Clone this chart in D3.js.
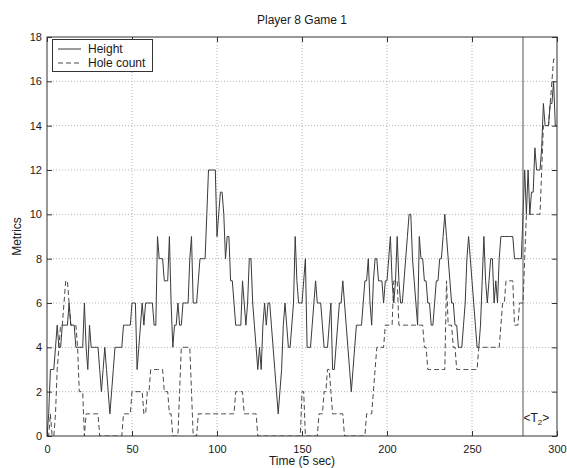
<!DOCTYPE html>
<html>
<head>
<meta charset="utf-8">
<script src="https://cdn.jsdelivr.net/npm/d3@7"></script>
<style>
  body { margin: 0; background: #fff; }
  text { font-family: "Liberation Sans", Arial, Helvetica, sans-serif; fill: #1a1a1a; }
</style>
</head>
<body>
<svg id="chart" width="567" height="468"></svg>
<script>
// Sample index (one step = 5 seconds)
const timeSteps = d3.range(0, 301);

// Board height per step
const heightValues = [
  0,1,3,3,3,4,5,4,4,5,
  5,5,5,6,5,5,5,4,4,4,
  4,4,6,4,3,5,4,4,4,4,
  4,3,2,3,4,3,2,1,2,3,
  4,4,4,4,4,5,5,5,5,5,
  6,6,6,3,4,5,6,5,6,6,
  6,6,6,5,5,9,8,8,8,7,
  7,7,9,6,4,5,5,6,5,5,
  6,6,6,6,8,9,6,6,6,7,
  8,8,8,8,10,12,12,12,12,12,
  9,10,11,11,10,8,9,9,7,7,
  6,5,5,5,5,7,6,5,6,8,
  8,6,5,4,3,4,3,5,6,5,
  6,6,5,4,3,2,1,2,3,5,
  6,5,4,4,5,6,9,7,6,6,
  6,7,8,4,4,4,5,6,7,6,
  6,6,5,4,4,4,5,6,3,3,
  4,5,6,6,7,6,5,4,3,2,
  3,4,5,5,5,5,6,7,7,8,
  6,5,7,8,8,7,7,7,6,7,
  7,8,9,7,6,7,9,7,6,6,
  7,8,9,10,10,8,7,6,5,9,
  8,8,7,7,6,6,5,5,6,7,
  7,8,8,9,10,9,8,7,6,6,
  5,5,4,4,4,5,6,8,9,8,
  7,6,5,4,4,5,7,9,7,6,
  7,8,8,6,7,6,8,9,9,9,
  9,9,9,9,9,8,8,8,8,8,
  10,12,10,12,10,11,11,13,12,12,
  12,13,15,14,14,14,15,15,16,14,
  14
];

// Number of holes per step
const holeCountValues = [
  0,0,1,0,0,1,3,4,5,5,
  6,7,7,6,5,5,5,5,4,2,
  2,2,0,1,1,1,1,1,1,1,
  1,0,0,0,0,0,0,0,0,0,
  0,0,0,0,0,1,1,1,1,1,
  2,2,2,2,2,2,2,1,1,2,
  2,3,3,3,3,3,3,3,3,2,
  2,2,1,1,0,0,0,0,2,4,
  4,4,4,4,4,2,0,0,0,1,
  1,1,1,1,1,1,1,1,1,1,
  1,1,1,1,1,1,1,1,1,1,
  1,2,2,2,2,2,1,1,1,1,
  1,1,1,1,0,0,0,0,0,0,
  0,0,0,0,0,0,0,0,0,0,
  0,0,0,0,0,0,0,0,0,0,
  2,2,0,0,0,0,0,0,0,0,
  1,1,1,2,2,3,3,2,1,1,
  1,1,1,1,1,0,0,0,0,0,
  0,0,0,0,0,0,0,0,1,1,
  1,1,2,3,4,4,4,4,4,5,
  5,5,5,5,7,7,7,5,5,5,
  5,5,5,5,5,5,5,5,5,5,
  5,5,4,4,3,3,3,3,3,3,
  3,3,3,3,3,7,5,5,5,4,
  4,3,3,3,3,3,3,3,3,3,
  3,3,3,3,4,4,4,4,4,4,
  4,4,4,4,4,4,4,5,6,6,
  7,7,7,7,7,5,5,5,6,6,
  6,8,10,10,10,10,10,10,10,10,
  10,12,14,14,14,14,15,16,17,17,
  17
];

const xTicks = [0, 50, 100, 150, 200, 250, 300];
const yTicks = [0, 2, 4, 6, 8, 10, 12, 14, 16, 18];
const markerTime = 280;

const svg = d3.select("#chart");
const W = 567, H = 468;
const margin = { left: 47, right: 10, top: 37, bottom: 32 };
const x0 = margin.left, x1 = W - margin.right;
const y0 = H - margin.bottom, y1 = margin.top;

const x = d3.scaleLinear().domain([0, 300]).range([x0, x1]);
const y = d3.scaleLinear().domain([0, 18]).range([y0, y1]);

const lineColor = "#3a3a3a";
const frameColor = "#333";

// dotted grid
const grid = svg.append("g");
grid.selectAll("line.gx").data(xTicks.filter(d => d > 0 && d < 300)).join("line")
  .attr("x1", d => x(d)).attr("x2", d => x(d)).attr("y1", y0).attr("y2", y1)
  .attr("stroke", "#b5b5b5").attr("stroke-width", 1).attr("stroke-dasharray", "1,2");
grid.selectAll("line.gy").data(yTicks.filter(d => d > 0 && d < 18)).join("line")
  .attr("x1", x0).attr("x2", x1).attr("y1", d => y(d)).attr("y2", d => y(d))
  .attr("stroke", "#b5b5b5").attr("stroke-width", 1).attr("stroke-dasharray", "1,2");

// axes with inward ticks on all four sides
function styleAxis(g) {
  g.select(".domain").remove();
  g.selectAll(".tick line").attr("stroke", frameColor);
  g.selectAll(".tick text").attr("font-size", 11).style("fill", "#1a1a1a");
}
svg.append("g").attr("transform", `translate(0,${y0})`)
  .call(d3.axisBottom(x).tickValues(xTicks).tickSizeInner(-5).tickSizeOuter(0).tickPadding(9))
  .call(styleAxis);
svg.append("g").attr("transform", `translate(0,${y1})`)
  .call(d3.axisTop(x).tickValues(xTicks).tickSizeInner(-5).tickSizeOuter(0).tickFormat(""))
  .call(styleAxis);
svg.append("g").attr("transform", `translate(${x0},0)`)
  .call(d3.axisLeft(y).tickValues(yTicks).tickSizeInner(-5).tickSizeOuter(0).tickPadding(5))
  .call(styleAxis);
svg.append("g").attr("transform", `translate(${x1},0)`)
  .call(d3.axisRight(y).tickValues(yTicks).tickSizeInner(-5).tickSizeOuter(0).tickFormat(""))
  .call(styleAxis);

// series
const clip = svg.append("clipPath").attr("id", "plotClip")
  .append("rect").attr("x", x0).attr("y", y1 - 2).attr("width", x1 - x0).attr("height", y0 - y1 + 2);

const line = d3.line().x(d => x(d[0])).y(d => y(d[1]));
const heightPts = timeSteps.map((t, i) => [t, heightValues[i]]);
const holePts = timeSteps.map((t, i) => [t, holeCountValues[i]]);

svg.append("path").datum(holePts)
  .attr("d", line).attr("fill", "none")
  .attr("stroke", "#4a4a4a").attr("stroke-width", 1).attr("stroke-dasharray", "5,3")
  .attr("clip-path", "url(#plotClip)");
svg.append("path").datum(heightPts)
  .attr("d", line).attr("fill", "none")
  .attr("stroke", lineColor).attr("stroke-width", 1)
  .attr("clip-path", "url(#plotClip)");

// marker line
svg.append("line")
  .attr("x1", x(markerTime)).attr("x2", x(markerTime)).attr("y1", y0).attr("y2", y1)
  .attr("stroke", "#555").attr("stroke-width", 1);
const mk = svg.append("text").attr("x", x(markerTime) + 0.5).attr("y", 422).attr("font-size", 12);
mk.append("tspan").text("<T");
mk.append("tspan").attr("font-size", 8).attr("dy", 3).text("2");
mk.append("tspan").attr("dy", -3).text(">");

// frame
svg.append("rect").attr("x", x0).attr("y", y1).attr("width", x1 - x0).attr("height", y0 - y1)
  .attr("fill", "none").attr("stroke", frameColor).attr("stroke-width", 1);

// legend
const lg = svg.append("g");
lg.append("rect").attr("x", 52.5).attr("y", 39.5).attr("width", 100).attr("height", 32)
  .attr("fill", "#fff").attr("stroke", frameColor).attr("stroke-width", 1);
lg.append("line").attr("x1", 58).attr("x2", 81).attr("y1", 49).attr("y2", 49)
  .attr("stroke", lineColor).attr("stroke-width", 1);
lg.append("line").attr("x1", 58).attr("x2", 81).attr("y1", 63).attr("y2", 63)
  .attr("stroke", "#4a4a4a").attr("stroke-width", 1).attr("stroke-dasharray", "5,3");
lg.append("text").attr("x", 88).attr("y", 53).attr("font-size", 12).text("Height");
lg.append("text").attr("x", 88).attr("y", 67).attr("font-size", 12).text("Hole count");

// titles
svg.append("text").attr("x", (x0 + x1) / 2).attr("y", 24).attr("text-anchor", "middle")
  .attr("font-size", 12).text("Player 8 Game 1");
svg.append("text").attr("x", (x0 + x1) / 2).attr("y", 465).attr("text-anchor", "middle")
  .attr("font-size", 12).text("Time (5 sec)");
svg.append("text").attr("transform", `translate(21,${(y0 + y1) / 2}) rotate(-90)`)
  .attr("text-anchor", "middle").attr("font-size", 12).text("Metrics");
</script>
</body>
</html>
